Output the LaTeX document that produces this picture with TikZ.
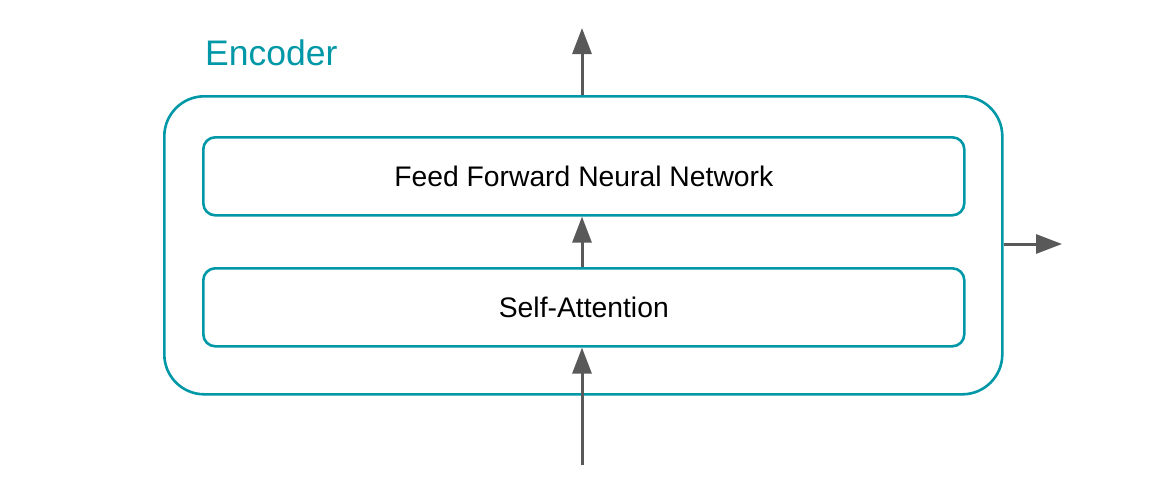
\documentclass[tikz,border=0pt]{standalone}
\usepackage{fontspec}
\setmainfont{Liberation Sans}
\usetikzlibrary{arrows.meta}
\definecolor{teal1}{HTML}{0097A7}
\definecolor{arrowgray}{HTML}{595959}
\begin{document}
\begin{tikzpicture}[x=1pt,y=-1pt,
  outerbox/.style={draw=teal1, line width=2.6pt, rounded corners=40pt},
  layerbox/.style={draw=teal1, line width=2.6pt, rounded corners=12pt, font=\fontsize{28.3}{33}\selectfont},
  flow/.style={draw=arrowgray, line width=3pt, -{Triangle[length=26pt,width=19pt]}},
  title/.style={text=teal1, font=\fontsize{35.5}{40}\selectfont, anchor=base west, inner sep=0pt}]
\useasboundingbox (0,0) rectangle (1150,491);
\node[outerbox, minimum width=838pt, minimum height=298pt, anchor=north west] (enc) at (163,95) {};
\node[layerbox, minimum width=761pt, minimum height=78pt, anchor=north west] (ffnn) at (202,136) {Feed Forward Neural Network};
\node[layerbox, minimum width=761pt, minimum height=78pt, anchor=north west] (sa) at (202,267) {Self-Attention};
\node[title] (lbl) at (205,65) {Encoder};
\coordinate (in) at (582,465);
\coordinate (out) at (582,28);
\coordinate (side) at (1062,244);
\draw[flow] (in) -- (sa.south -| in);
\draw[flow] (sa.north -| in) -- (ffnn.south -| in);
\draw[flow] (enc.north -| out) -- (out);
\draw[flow] (enc.east |- side) -- (side);
\end{tikzpicture}
\end{document}
